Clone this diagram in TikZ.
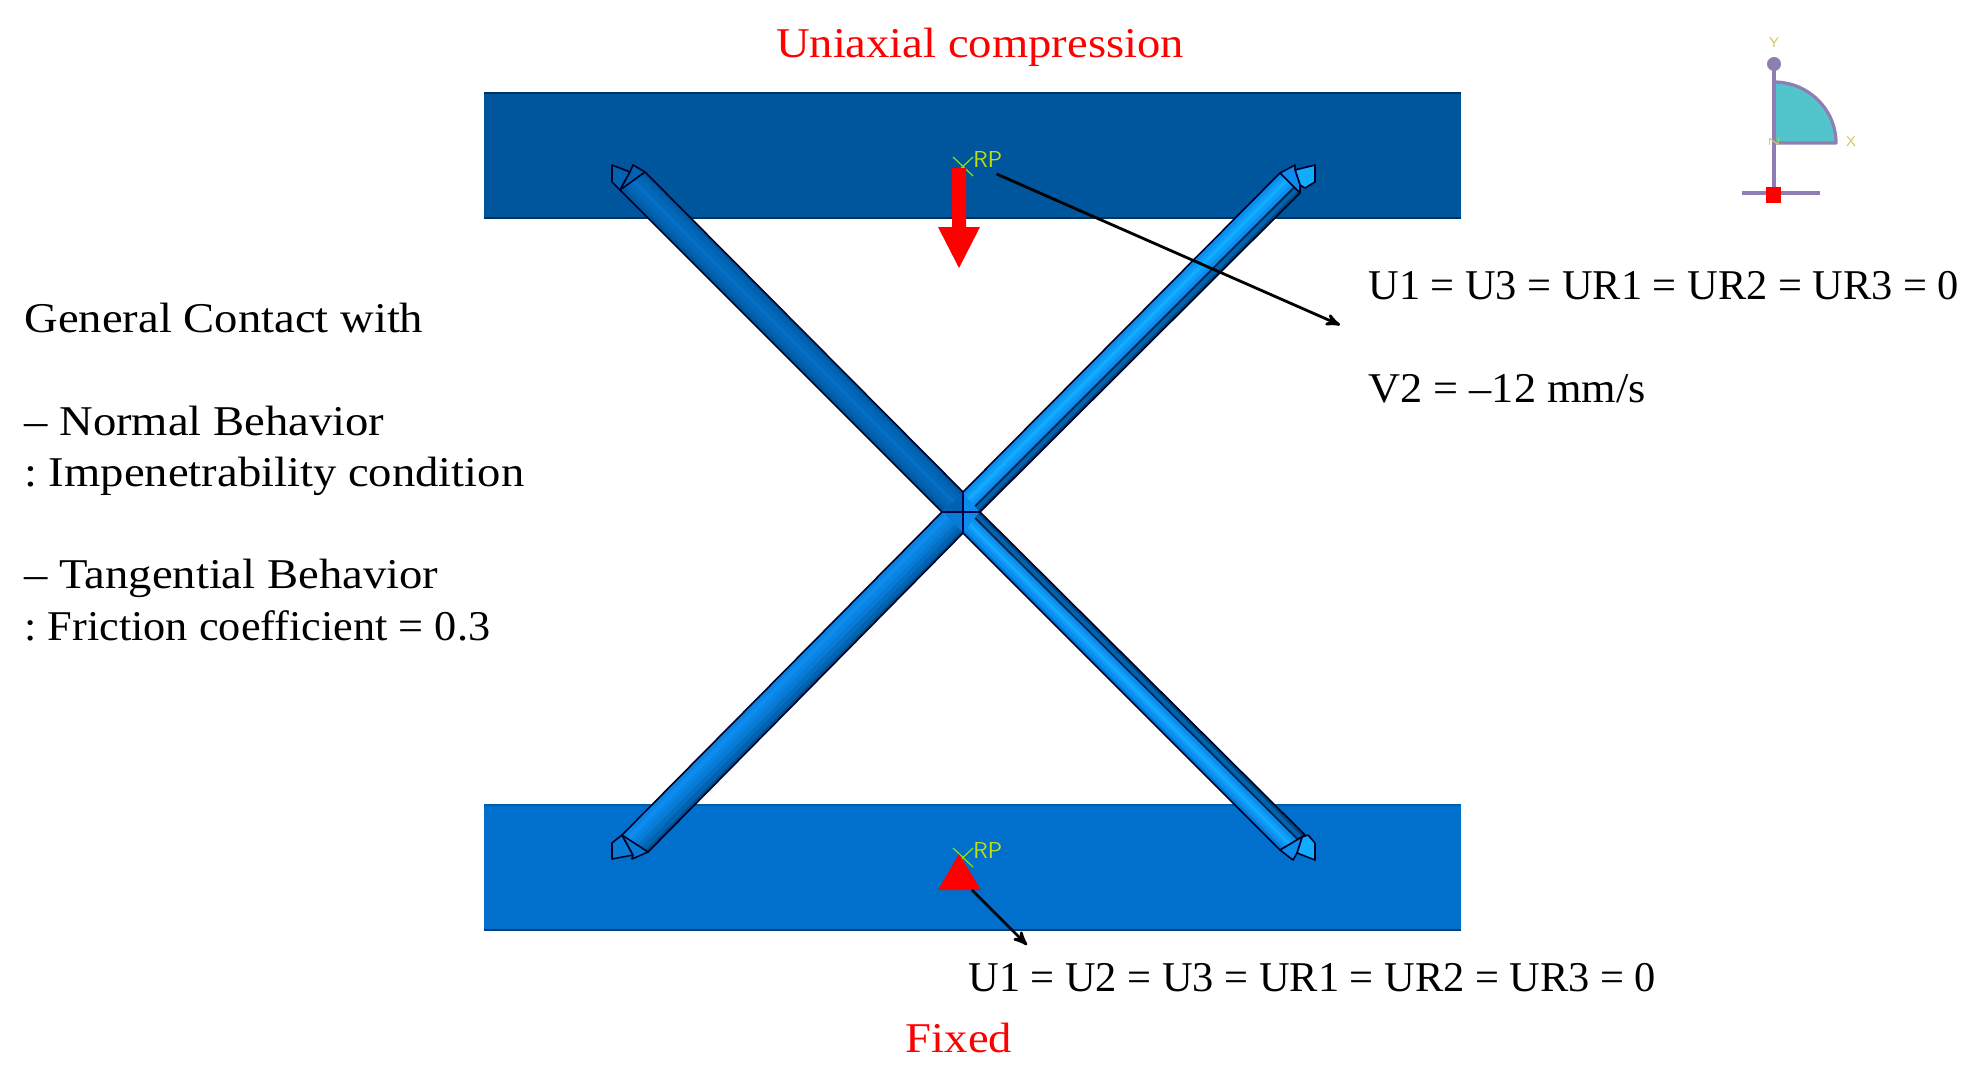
\documentclass[tikz,border=0pt]{standalone}
\usepackage{fontspec}
\setmainfont{Liberation Serif}
\newfontfamily\wordfont[FakeStretch=1.1,Ligatures=TeX]{Liberation Serif}
\newfontfamily\midfont[FakeStretch=1.045,Ligatures=TeX]{Liberation Serif}
\usetikzlibrary{arrows}
\usetikzlibrary{calc}
\frenchspacing

\definecolor{topblue}{HTML}{00569C}
\definecolor{lowblue}{HTML}{0070CC}
\definecolor{barmid}{HTML}{0062B0}
\definecolor{barbright}{HTML}{0C8CEE}
\definecolor{barlight}{HTML}{12ACFF}
\definecolor{rpgreen}{HTML}{BFDF10}
\definecolor{triadline}{HTML}{8F7FB0}
\definecolor{triadfill}{HTML}{52C4CC}
\definecolor{triadtext}{HTML}{D0C860}

% bands across one bar: from the side #1-#3 to the side #2-#4
\newcommand{\strutbar}[5]{
  \foreach \ta/\col in {#5}
    \fill[\col] ($(#1)!\ta!(#2)$) -- (#2) -- (#4) -- ($(#3)!\ta!(#4)$) -- cycle;
  \draw[bar edge] (#1) -- (#3) (#2) -- (#4);
}

\begin{document}
\begin{tikzpicture}[x=0.5pt,y=-0.5pt,>=stealth',
    bar edge/.style={draw=black!85!blue,line width=0.8pt},
    bar tip/.style={draw=black!85!blue,line width=0.8pt,line join=round},
    rp cross/.style={draw=rpgreen!70!green,line width=0.6pt},
    rp label/.style={text=rpgreen,font=\sffamily\fontsize{11.5}{13}\selectfont,inner sep=0pt,anchor=south west},
    main text/.style={font=\fontsize{21.2}{25.6}\selectfont,inner sep=0pt,align=left},
    word text/.style={font=\wordfont\fontsize{21.2}{25.6}\selectfont,inner sep=0pt,align=left},
    red text/.style={word text,text=red},
    callout/.style={->,line width=1.4pt,black},
    triad text/.style={text=triadtext,font=\sffamily\fontsize{7}{8}\selectfont,inner sep=0pt}]

  \useasboundingbox (0,0) rectangle (1975,1081);

  % plates
  \fill[topblue] (484,93) rectangle (1461,218);
  \draw[black!40!topblue,line width=1pt] (484,93) -- (1461,93) (484,218) -- (1461,218);
  \fill[lowblue] (484,805) rectangle (1461,930);
  \draw[black!15!lowblue,line width=1pt] (484,805) -- (1461,805);
  \draw[black!40!lowblue,line width=1pt] (484,930) -- (1461,930);

  % ends and centre of the bars
  \coordinate (ula) at (620,190);
  \coordinate (ulb) at (645,172);
  \coordinate (ulc) at (942,512);
  \coordinate (uld) at (963,492);
  \coordinate (ura) at (1280,173);
  \coordinate (urb) at (1300,193);
  \coordinate (urc) at (963,492);
  \coordinate (urd) at (980,512);
  \coordinate (lla) at (622,835);
  \coordinate (llb) at (648,852);
  \coordinate (llc) at (942,512);
  \coordinate (lld) at (963,533);
  \coordinate (lra) at (1280,850);
  \coordinate (lrb) at (1305,835);
  \coordinate (lrc) at (963,533);
  \coordinate (lrd) at (980,512);
  \coordinate (mid) at (963,512);

  % centre joint
  \fill[barmid] (ulc) -- (uld) -- (mid) -- cycle;
  \fill[barbright] (uld) -- (urd) -- (mid) -- cycle;
  \fill[barbright!60!barmid] (ulc) -- (lld) -- (mid) -- cycle;
  \fill[barbright] (lld) -- (urd) -- (mid) -- cycle;

  \strutbar{ula}{ulb}{ulc}{uld}{0/barmid!90!black,0.15/barmid,0.3/barmid!85!barbright,0.45/barmid!70!barbright,0.6/barmid!85!barbright,0.75/barmid,0.9/barmid!90!black}
  \strutbar{ura}{urb}{urc}{urd}{0/barbright,0.15/barbright!50!barlight,0.28/barlight,0.42/barbright!50!barlight,0.55/barbright,0.68/black!60!barmid,0.75/barmid,0.9/barmid!70!black}
  \strutbar{lla}{llb}{llc}{lld}{0/barbright!80!barmid,0.15/barbright,0.3/barbright!80!barmid,0.45/barbright!60!barmid,0.6/barbright!30!barmid,0.75/barmid,0.9/barmid!80!black}
  \strutbar{lra}{lrb}{lrc}{lrd}{0/barmid!50!barbright,0.12/barbright,0.25/barbright!50!barlight,0.35/barlight,0.45/barbright!50!barlight,0.56/barbright,0.68/black!60!barmid,0.75/barmid,0.9/barmid!70!black}

  \draw[black!70!blue,line width=0.9pt] (ulc) -- (urd) (uld) -- (lld);

  % tips
  \draw[bar tip,fill=barmid] (ula) -- (612,182) -- (612,165) -- (630,172) -- cycle;
  \draw[bar tip,fill=barmid] (630,172) -- (633,165) -- (ulb) -- (ula) -- cycle;
  \draw[bar tip,fill=barlight] (1315,165) -- (1295,170) -- (1300,185) -- (1305,188) -- (1315,182) -- cycle;
  \draw[bar tip,fill=barbright] (ura) -- (1295,165) -- (1295,170) -- (1300,185) -- (urb) -- cycle;
  \draw[bar tip,fill=barbright!60!barmid] (612,843) -- (lla) -- (633,855) -- (612,859) -- cycle;
  \draw[bar tip,fill=barbright!60!barmid] (lla) -- (llb) -- (632,859) -- (633,855) -- cycle;
  \draw[bar tip,fill=barlight] (1302,837) -- (1308,835) -- (1315,843) -- (1315,860) -- (1297,853) -- cycle;
  \draw[bar tip,fill=barbright] (lra) -- (1293,860) -- (1297,853) -- (1302,837) -- (lrb) -- cycle;

  % reference points
  \draw[rp cross] (953,157) -- (973,176) (953,176) -- (973,157);
  \node[rp label] (rptop) at (973,168) {RP};
  \draw[rp cross] (953,848) -- (973,867) (953,867) -- (973,848);
  \node[rp label] (rplow) at (973,859) {RP};

  % load arrow and support
  \fill[red] (952,168) -- (966,168) -- (966,227) -- (980,227) -- (959,268) -- (938,227) -- (952,227) -- cycle;
  \fill[red] (959,854) -- (981,890) -- (938,890) -- cycle;

  % texts
  \node[red text] (title) at (980,47) {Uniaxial compression};
  \node[red text] (fixed) at (959,1038) {Fixed};
  \node[word text,anchor=north west] (contact) at (24,303) {General Contact with\\[25.6pt]
    -- Normal Behavior\\
    : Impenetrability condition\\[25.6pt]
    -- Tangential Behavior\\
    {\midfont : Friction coefficient = 0.3}};
  \node[main text,anchor=north west] (topbc) at (1368,271) {U1 = U3 = UR1 = UR2 = UR3 = 0\\[25.6pt]
    {\midfont V2 = --12 mm/s}};
  \node[main text,anchor=west] (lowbc) at (968,978) {U1 = U2 = U3 = UR1 = UR2 = UR3 = 0};

  \coordinate (topend) at (1340,325);
  \coordinate (lowend) at (1027,945);
  \draw[callout] (rptop.south east) ++(-6,6) -- (topend);
  \draw[callout] (972,890) -- (lowend);

  % triad
  \draw[triadline,line width=1.6pt,fill=triadfill,line join=round] (1774,82) arc (-90:0:62 and 61) -- (1774,143) -- cycle;
  \draw[triadline,line width=1.6pt] (1774,64) -- (1774,193);
  \draw[triadline,line width=1.6pt] (1742,193) -- (1820,193);
  \fill[triadline] (1774,64) circle (7);
  \fill[red] (1766,187) rectangle (1781,203);
  \node[triad text] (triady) at (1774,43) {Y};
  \node[triad text] (triadx) at (1851,142) {X};
  \node[triad text,rotate=90] (triadz) at (1774,142) {Z};
\end{tikzpicture}
\end{document}
